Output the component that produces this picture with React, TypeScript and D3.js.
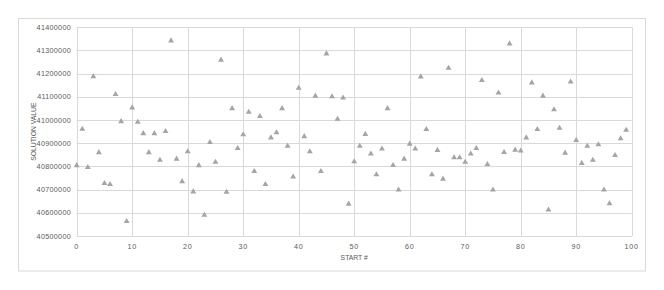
import React from "react";
import * as d3 from "d3";

const startNumbers: number[] = d3.range(0, 100);
const solutionValues: number[] = [
  40804000, 40961000, 40796000, 41188000, 40860000, 40727000, 40723000, 41111000, 40994000, 40563000,
  41053000, 40991000, 40942000, 40860000, 40942000, 40827000, 40951000, 41342000, 40832000, 40735000,
  40864000, 40691000, 40804000, 40590000, 40904000, 40819000, 41259000, 40689000, 41050000, 40878000,
  40937000, 41034000, 40779000, 41016000, 40723000, 40924000, 40946000, 41050000, 40888000, 40755000,
  41138000, 40929000, 40864000, 41104000, 40779000, 41286000, 41101000, 41004000, 41096000, 40638000,
  40821000, 40888000, 40939000, 40854000, 40765000, 40876000, 41050000, 40805000, 40699000, 40832000,
  40897000, 40876000, 41187000, 40960000, 40765000, 40870000, 40746000, 41224000, 40838000, 40838000,
  40819000, 40854000, 40878000, 41171000, 40809000, 40699000, 41117000, 40861000, 41329000, 40871000,
  40867000, 40924000, 41161000, 40960000, 41104000, 40613000, 41045000, 40965000, 40858000, 41165000,
  40913000, 40814000, 40888000, 40827000, 40894000, 40699000, 40640000, 40848000, 40920000, 40957000,
];
const xTicks: number[] = [0, 10, 20, 30, 40, 50, 60, 70, 80, 90, 100];
const yTicks: number[] = [40500000, 40600000, 40700000, 40800000, 40900000, 41000000, 41100000, 41200000, 41300000, 41400000];
const xTitle = "START #";
const yTitle = "SOLUTION VALUE";

export default function App() {
  const W = 664, H = 290;
  const left = 76.7, right = 631.7, top = 27.3, bottom = 236;
  const x = d3.scaleLinear().domain([0, 100]).range([left, right]);
  const y = d3.scaleLinear().domain([40500000, 41400000]).range([bottom, top]);
  const tri = d3.symbol().type(d3.symbolTriangle).size(15)() as string;
  const font = "'Liberation Sans', 'DejaVu Sans', sans-serif";
  const textColor = "#595959";
  const grid = "#d9d9d9";

  return (
    <svg width={W} height={H} style={{ position: "absolute", left: 0, top: 0, background: "#fff" }}>
      <rect x={18.5} y={18.5} width={627} height={252.5} fill="#fff" stroke={grid} strokeWidth={1} />
      {yTicks.map((t) => (
        <line key={"gy" + t} x1={left} x2={right} y1={Math.round(y(t)) + 0.5} y2={Math.round(y(t)) + 0.5} stroke={grid} strokeWidth={1} />
      ))}
      {xTicks.map((t) => (
        <line key={"gx" + t} x1={Math.round(x(t)) + 0.5} x2={Math.round(x(t)) + 0.5} y1={top} y2={bottom} stroke={grid} strokeWidth={1} />
      ))}
      {yTicks.map((t) => (
        <text key={"ty" + t} x={71} y={y(t)} dy="0.35em" textAnchor="end" fontSize={7.2} fontFamily={font} fill={textColor} letterSpacing={0.3}>
          {t}
        </text>
      ))}
      {xTicks.map((t) => (
        <text key={"tx" + t} x={x(t)} y={246.5} dy="0.35em" textAnchor="middle" fontSize={7.2} fontFamily={font} fill={textColor} letterSpacing={0.8}>
          {t}
        </text>
      ))}
      <text x={(left + right) / 2 + 0} y={258} dy="0.35em" textAnchor="middle" fontSize={6.8} fontFamily={font} fill={textColor}>
        {xTitle}
      </text>
      <text transform={`translate(33.5, ${(top + bottom) / 2}) rotate(-90)`} dy="0.35em" textAnchor="middle" fontSize={6.8} fontFamily={font} fill={textColor}>
        {yTitle}
      </text>
      {solutionValues.map((v, i) => (
        <path key={"p" + i} d={tri} transform={`translate(${x(startNumbers[i])}, ${y(v)})`} fill="#a5a5a5" />
      ))}
    </svg>
  );
}
